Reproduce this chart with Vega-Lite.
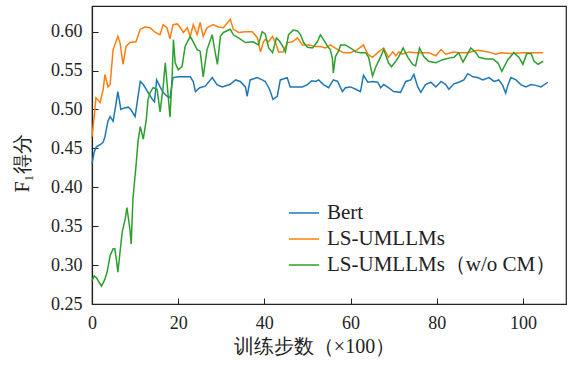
{
  "$schema": "https://vega.github.io/schema/vega-lite/v6.json",
  "width": 474,
  "height": 298,
  "autosize": {"type": "none"},
  "padding": {"left": 92, "top": 6, "right": 2, "bottom": 61},
  "background": "white",
  "config": {
    "font": "Liberation Serif",
    "view": {"stroke": "#222", "strokeWidth": 1.2},
    "axis": {"grid": false, "domainColor": "#222", "tickColor": "#222", "labelColor": "#222", "titleColor": "#222", "labelFontSize": 18, "titleFontSize": 20, "titleFontWeight": "normal", "tickSize": -6, "domainWidth": 1.2, "labelFlush": false}
  },
  "datasets": {
    "bert": [
      {"x":0,"y":0.43},{"x":0.5,"y":0.445},{"x":1,"y":0.452},{"x":2,"y":0.455},{"x":2.6,"y":0.458},{"x":3,"y":0.465},{"x":3.7,"y":0.485},{"x":4.2,"y":0.491},{"x":4.9,"y":0.485},{"x":5.5,"y":0.505},{"x":6,"y":0.523},{"x":6.7,"y":0.5},{"x":7.5,"y":0.502},{"x":8.4,"y":0.503},{"x":9,"y":0.5},{"x":10,"y":0.491},{"x":11.2,"y":0.536},{"x":11.9,"y":0.532},{"x":13,"y":0.522},{"x":14,"y":0.513},{"x":14.5,"y":0.51},{"x":15,"y":0.538},{"x":15.8,"y":0.529},{"x":16.5,"y":0.522},{"x":17.4,"y":0.517},{"x":18.1,"y":0.515},{"x":18.8,"y":0.541},{"x":20,"y":0.542},{"x":21.6,"y":0.542},{"x":22.8,"y":0.542},{"x":23.5,"y":0.536},{"x":24,"y":0.523},{"x":25,"y":0.528},{"x":26.3,"y":0.53},{"x":27.9,"y":0.541},{"x":29,"y":0.532},{"x":30.2,"y":0.529},{"x":32,"y":0.532},{"x":33.3,"y":0.538},{"x":34.4,"y":0.536},{"x":35.6,"y":0.529},{"x":36,"y":0.517},{"x":36.7,"y":0.538},{"x":38.3,"y":0.541},{"x":39.5,"y":0.538},{"x":40.2,"y":0.536},{"x":41.2,"y":0.526},{"x":42,"y":0.513},{"x":43,"y":0.517},{"x":43.7,"y":0.538},{"x":45.3,"y":0.541},{"x":46,"y":0.529},{"x":48.8,"y":0.529},{"x":50,"y":0.532},{"x":51,"y":0.537},{"x":51.9,"y":0.536},{"x":52.6,"y":0.538},{"x":53.7,"y":0.532},{"x":54.9,"y":0.528},{"x":56,"y":0.538},{"x":57,"y":0.536},{"x":58.1,"y":0.523},{"x":58.8,"y":0.528},{"x":60,"y":0.529},{"x":61.2,"y":0.526},{"x":62.3,"y":0.523},{"x":63,"y":0.544},{"x":64,"y":0.535},{"x":65.1,"y":0.536},{"x":66.3,"y":0.535},{"x":67,"y":0.528},{"x":67.7,"y":0.532},{"x":68.8,"y":0.528},{"x":70,"y":0.523},{"x":71.6,"y":0.522},{"x":72.3,"y":0.53},{"x":72.8,"y":0.536},{"x":74,"y":0.538},{"x":74.7,"y":0.545},{"x":75.6,"y":0.529},{"x":76.3,"y":0.522},{"x":77.4,"y":0.532},{"x":78.6,"y":0.535},{"x":79.8,"y":0.529},{"x":81,"y":0.536},{"x":82.1,"y":0.532},{"x":82.8,"y":0.526},{"x":84,"y":0.533},{"x":85.1,"y":0.535},{"x":86.3,"y":0.538},{"x":87.2,"y":0.546},{"x":88.4,"y":0.542},{"x":89.5,"y":0.541},{"x":90.7,"y":0.538},{"x":92.1,"y":0.541},{"x":93.3,"y":0.536},{"x":94.4,"y":0.538},{"x":95.3,"y":0.531},{"x":96,"y":0.521},{"x":96.5,"y":0.531},{"x":97.2,"y":0.541},{"x":98.4,"y":0.538},{"x":99.5,"y":0.532},{"x":100.7,"y":0.529},{"x":101.9,"y":0.532},{"x":103,"y":0.531},{"x":104.2,"y":0.529},{"x":105.8,"y":0.535}
    ],
    "ls": [
      {"x":0,"y":0.465},{"x":0.5,"y":0.49},{"x":0.9,"y":0.515},{"x":1.9,"y":0.509},{"x":2.6,"y":0.526},{"x":3,"y":0.545},{"x":3.7,"y":0.529},{"x":4.2,"y":0.532},{"x":4.9,"y":0.577},{"x":6,"y":0.594},{"x":6.5,"y":0.586},{"x":7.2,"y":0.558},{"x":7.9,"y":0.581},{"x":8.8,"y":0.586},{"x":10.2,"y":0.587},{"x":11.2,"y":0.603},{"x":12.3,"y":0.606},{"x":13.5,"y":0.605},{"x":14.7,"y":0.599},{"x":15.8,"y":0.596},{"x":16.5,"y":0.609},{"x":17.4,"y":0.605},{"x":18.1,"y":0.591},{"x":18.8,"y":0.609},{"x":19.8,"y":0.61},{"x":20.5,"y":0.605},{"x":21.2,"y":0.599},{"x":22.1,"y":0.605},{"x":22.8,"y":0.594},{"x":23.5,"y":0.609},{"x":24.4,"y":0.596},{"x":25.1,"y":0.612},{"x":25.8,"y":0.594},{"x":26.7,"y":0.605},{"x":28.1,"y":0.609},{"x":29.3,"y":0.606},{"x":30.5,"y":0.605},{"x":32.1,"y":0.616},{"x":32.8,"y":0.603},{"x":34,"y":0.599},{"x":35.6,"y":0.6},{"x":37.2,"y":0.6},{"x":38.4,"y":0.592},{"x":39.1,"y":0.574},{"x":39.8,"y":0.587},{"x":40.2,"y":0.59},{"x":41,"y":0.587},{"x":41.9,"y":0.594},{"x":42.6,"y":0.586},{"x":43.3,"y":0.574},{"x":44.4,"y":0.574},{"x":45.3,"y":0.586},{"x":46.5,"y":0.587},{"x":47.7,"y":0.592},{"x":48.8,"y":0.583},{"x":50.2,"y":0.583},{"x":51.9,"y":0.581},{"x":53,"y":0.581},{"x":54.2,"y":0.579},{"x":55.3,"y":0.583},{"x":57,"y":0.577},{"x":58.4,"y":0.573},{"x":60,"y":0.573},{"x":61.6,"y":0.577},{"x":63,"y":0.583},{"x":64,"y":0.571},{"x":65.1,"y":0.567},{"x":66.5,"y":0.574},{"x":67.7,"y":0.579},{"x":68.8,"y":0.567},{"x":69.8,"y":0.574},{"x":70.5,"y":0.569},{"x":71.2,"y":0.574},{"x":72,"y":0.571},{"x":73.5,"y":0.574},{"x":75.1,"y":0.573},{"x":76.7,"y":0.573},{"x":78.1,"y":0.573},{"x":79.8,"y":0.569},{"x":81,"y":0.577},{"x":82.1,"y":0.571},{"x":83.3,"y":0.573},{"x":84,"y":0.574},{"x":85.1,"y":0.573},{"x":87.2,"y":0.573},{"x":89.5,"y":0.576},{"x":91.9,"y":0.574},{"x":93.7,"y":0.571},{"x":94.9,"y":0.573},{"x":97,"y":0.572},{"x":100,"y":0.573},{"x":102,"y":0.573},{"x":104.7,"y":0.573}
    ],
    "cm": [
      {"x":0,"y":0.28},{"x":0.5,"y":0.286},{"x":1,"y":0.284},{"x":2.2,"y":0.273},{"x":3,"y":0.282},{"x":3.5,"y":0.291},{"x":4.2,"y":0.312},{"x":4.9,"y":0.321},{"x":5.3,"y":0.321},{"x":5.8,"y":0.301},{"x":6,"y":0.291},{"x":7,"y":0.342},{"x":7.7,"y":0.359},{"x":8.1,"y":0.374},{"x":8.8,"y":0.346},{"x":9.1,"y":0.327},{"x":9.5,"y":0.385},{"x":10.2,"y":0.427},{"x":10.7,"y":0.46},{"x":11.2,"y":0.478},{"x":11.9,"y":0.462},{"x":12.6,"y":0.487},{"x":13,"y":0.513},{"x":13.5,"y":0.522},{"x":14.2,"y":0.528},{"x":15.1,"y":0.526},{"x":15.8,"y":0.497},{"x":16.5,"y":0.528},{"x":17,"y":0.56},{"x":17.4,"y":0.535},{"x":18.1,"y":0.49},{"x":18.6,"y":0.542},{"x":18.9,"y":0.59},{"x":19.3,"y":0.56},{"x":20,"y":0.551},{"x":20.9,"y":0.555},{"x":21.6,"y":0.581},{"x":22.8,"y":0.594},{"x":23.5,"y":0.587},{"x":24.4,"y":0.577},{"x":25.1,"y":0.575},{"x":25.8,"y":0.542},{"x":26.7,"y":0.577},{"x":27.9,"y":0.596},{"x":28.6,"y":0.573},{"x":29.1,"y":0.558},{"x":29.8,"y":0.594},{"x":30.5,"y":0.599},{"x":32.1,"y":0.603},{"x":32.8,"y":0.596},{"x":34,"y":0.592},{"x":35.6,"y":0.586},{"x":37.4,"y":0.587},{"x":38.6,"y":0.583},{"x":39.5,"y":0.6},{"x":40.2,"y":0.597},{"x":41,"y":0.579},{"x":41.9,"y":0.573},{"x":42.8,"y":0.592},{"x":43.5,"y":0.588},{"x":44.4,"y":0.58},{"x":44.9,"y":0.574},{"x":45.6,"y":0.596},{"x":46.7,"y":0.602},{"x":47.7,"y":0.601},{"x":48.4,"y":0.596},{"x":49.1,"y":0.586},{"x":50,"y":0.58},{"x":51.2,"y":0.579},{"x":52.3,"y":0.587},{"x":53,"y":0.596},{"x":53.7,"y":0.59},{"x":54.7,"y":0.581},{"x":55.3,"y":0.577},{"x":55.8,"y":0.565},{"x":56,"y":0.547},{"x":56.5,"y":0.568},{"x":57.2,"y":0.575},{"x":57.7,"y":0.583},{"x":58.8,"y":0.583},{"x":60,"y":0.579},{"x":61.2,"y":0.574},{"x":62.3,"y":0.573},{"x":63.5,"y":0.573},{"x":64.2,"y":0.567},{"x":65.1,"y":0.543},{"x":65.8,"y":0.554},{"x":67,"y":0.568},{"x":67.7,"y":0.577},{"x":68.1,"y":0.571},{"x":68.8,"y":0.56},{"x":69.5,"y":0.555},{"x":70.5,"y":0.562},{"x":71.2,"y":0.568},{"x":72.2,"y":0.579},{"x":73.3,"y":0.567},{"x":74.4,"y":0.558},{"x":75.1,"y":0.556},{"x":76,"y":0.579},{"x":77,"y":0.568},{"x":78.1,"y":0.562},{"x":79.8,"y":0.56},{"x":81.4,"y":0.564},{"x":82.8,"y":0.566},{"x":84,"y":0.567},{"x":85.1,"y":0.573},{"x":86.1,"y":0.561},{"x":87.9,"y":0.579},{"x":89.1,"y":0.573},{"x":89.8,"y":0.567},{"x":91.4,"y":0.565},{"x":93,"y":0.565},{"x":94.2,"y":0.56},{"x":95.1,"y":0.549},{"x":96.5,"y":0.564},{"x":97.9,"y":0.573},{"x":99.1,"y":0.567},{"x":100,"y":0.558},{"x":100.9,"y":0.572},{"x":101.9,"y":0.572},{"x":102.6,"y":0.562},{"x":103.5,"y":0.558},{"x":104.7,"y":0.562}
    ]
  },
  "layer": [
    {"data": {"name": "bert"}, "transform": [{"calculate": "'Bert'", "as": "s"}], "mark": {"type": "line", "strokeWidth": 1.5}, "encoding": {
      "x": {"field": "x", "type": "quantitative", "scale": {"domain": [0, 110], "nice": false}, "axis": {"values": [0,20,40,60,80,100], "title": "训练步数（×100）", "labelFont": "Liberation Serif", "titleFont": "Liberation Serif", "labelPadding": 16, "titlePadding": 4, "titleX": 222}},
      "y": {"field": "y", "type": "quantitative", "scale": {"domain": [0.25, 0.633], "nice": false, "zero": false}, "axis": {"values": [0.25,0.3,0.35,0.4,0.45,0.5,0.55,0.6], "format": ".2f", "title": "F₁得分", "labelFont": "Liberation Serif", "titleFont": "Liberation Serif", "labelPadding": 16, "titlePadding": 18, "titleY": 157}},
      "color": {"field": "s", "type": "nominal", "scale": {"domain": ["Bert", "LS-UMLLMs", "LS-UMLLMs（w/o CM）"], "range": ["#1f77b4", "#ff7f0e", "#2ca02c"]}, "legend": {"title": null, "orient": "none", "legendX": 196, "legendY": 191, "symbolType": "stroke", "symbolSize": 900, "symbolStrokeWidth": 1.5, "labelFontSize": 21, "labelFont": "Liberation Serif", "labelColor": "#222", "labelLimit": 0, "rowPadding": 0, "padding": 0, "labelOffset": 7}}
    }},
    {"data": {"name": "ls"}, "transform": [{"calculate": "'LS-UMLLMs'", "as": "s"}], "mark": {"type": "line", "strokeWidth": 1.5}, "encoding": {
      "x": {"field": "x", "type": "quantitative"},
      "y": {"field": "y", "type": "quantitative"},
      "color": {"field": "s", "type": "nominal"}
    }},
    {"data": {"name": "cm"}, "transform": [{"calculate": "'LS-UMLLMs（w/o CM）'", "as": "s"}], "mark": {"type": "line", "strokeWidth": 1.5}, "encoding": {
      "x": {"field": "x", "type": "quantitative"},
      "y": {"field": "y", "type": "quantitative"},
      "color": {"field": "s", "type": "nominal"}
    }}
  ]
}
